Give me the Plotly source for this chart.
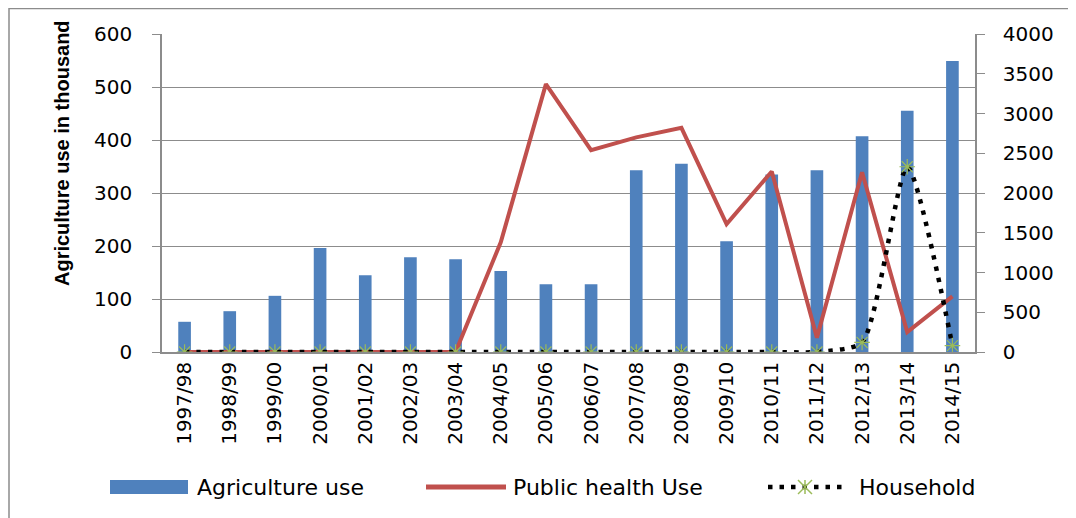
import plotly.graph_objects as go

years = ["1997/98", "1998/99", "1999/00", "2000/01", "2001/02", "2002/03", "2003/04",
         "2004/05", "2005/06", "2006/07", "2007/08", "2008/09", "2009/10", "2010/11",
         "2011/12", "2012/13", "2013/14", "2014/15"]
agriculture = [57, 77, 106, 196, 145, 179, 175, 153, 128, 128, 343, 355, 209, 335, 343, 407, 455, 549]
public_health = [0, 0, 0, 0, 0, 0, 0, 1380, 3370, 2540, 2700, 2820, 1610, 2270, 180, 2260, 250, 700]
household = [0, 0, 0, 0, 0, 0, 0, 0, 0, 0, 0, 0, 0, 0, 0, 120, 2330, 80]
series_names = ["Agriculture use", "Public health Use", "Household"]

BLUE, RED, GREEN, GRAY = "#4F81BD", "#C0504D", "#9BBB59", "#8C8C8C"

# page has an 8px body margin, so figure pixel = screen pixel - 8
W, H = 1068, 510
L, R, T, B = 154, 101, 26, 166
pw, ph = W - L - R, H - T - B


def px(x):
    return (x - 8 - L) / pw


def py(y):
    return (H - B - (y - 8)) / ph


DOTS = "4.5px,7px"

fig = go.Figure()
fig.add_trace(go.Bar(x=years, y=agriculture, name=series_names[0],
                     marker=dict(color=BLUE, line=dict(width=0)),
                     width=0.28, yaxis="y"))
fig.add_trace(go.Scatter(x=years, y=public_health, name=series_names[1],
                         mode="lines", line=dict(color=RED, width=4),
                         yaxis="y2"))
fig.add_trace(go.Scatter(x=years, y=household, name=series_names[2],
                         mode="lines+markers",
                         line=dict(color="black", width=4.5, dash=DOTS, shape="spline", smoothing=0.6),
                         marker=dict(symbol="asterisk-open", size=13, color=GREEN,
                                     line=dict(width=1.2, color=GREEN)),
                         yaxis="y2"))

tickfont = dict(family="DejaVu Sans, Verdana", size=20, color="black")
xtickfont = dict(family="DejaVu Sans, Verdana", size=20, color="black")
legfont = dict(family="DejaVu Sans, Verdana", size=22, color="black")

shapes = [
    # outer chart border
    dict(type="rect", xref="paper", yref="paper",
         x0=px(9), x1=px(1069), y0=py(530), y1=py(8.5),
         line=dict(color=GRAY, width=1.5), layer="below"),
    # legend: bar swatch
    dict(type="rect", xref="paper", yref="paper",
         x0=px(110), x1=px(188), y0=py(494), y1=py(480),
         fillcolor=BLUE, line=dict(width=0)),
    # legend: red line
    dict(type="line", xref="paper", yref="paper",
         x0=px(426), x1=px(506), y0=py(487), y1=py(487),
         line=dict(color=RED, width=5)),
    # legend: dotted line
    dict(type="line", xref="paper", yref="paper",
         x0=px(768), x1=px(842), y0=py(487), y1=py(487),
         line=dict(color="black", width=4.5, dash=DOTS)),
]
# legend: asterisk marker
cx, cy, r = 805, 487, 7
for dx, dy in [(0, r), (r, r), (r, -r)]:
    shapes.append(dict(type="line", xref="paper", yref="paper",
                       x0=px(cx - dx), x1=px(cx + dx), y0=py(cy - dy), y1=py(cy + dy),
                       line=dict(color=GREEN, width=1.5)))

annotations = [
    dict(text="<b>Agriculture use in thousand</b>", textangle=-90,
         xref="paper", yref="paper", x=px(62), y=py(153),
         xanchor="center", yanchor="middle", showarrow=False,
         font=dict(family="Liberation Sans Narrow, Arial Narrow, Liberation Sans", size=20, color="black")),
]
for name, x0 in zip(series_names, [195, 511, 857]):
    annotations.append(dict(text=name, xref="paper", yref="paper", x=px(x0), y=py(487),
                            xanchor="left", yanchor="middle", showarrow=False, font=legfont))

fig.update_layout(
    width=W, height=H,
    margin=dict(l=L, r=R, t=T, b=B),
    paper_bgcolor="white", plot_bgcolor="white",
    showlegend=False,
    xaxis=dict(type="category", tickangle=-90, tickfont=xtickfont,
               showline=True, linecolor=GRAY, linewidth=1.5,
               showgrid=False, ticks="", range=[-0.5, 17.5]),
    yaxis=dict(range=[0, 600], dtick=100, tickfont=tickfont,
               showline=True, linecolor=GRAY, linewidth=1.5,
               showgrid=True, gridcolor=GRAY, gridwidth=1,
               ticks="outside", ticklen=8, tickcolor=GRAY, zeroline=False,
               ticklabelstandoff=16),
    yaxis2=dict(range=[0, 4000], dtick=500, tickfont=tickfont, overlaying="y", side="right",
                showline=True, linecolor=GRAY, linewidth=1.5,
                showgrid=False, ticks="outside", ticklen=8, tickcolor=GRAY, zeroline=False,
                ticklabelstandoff=14),
    annotations=annotations,
    shapes=shapes,
)

fig.write_html("out.html")
